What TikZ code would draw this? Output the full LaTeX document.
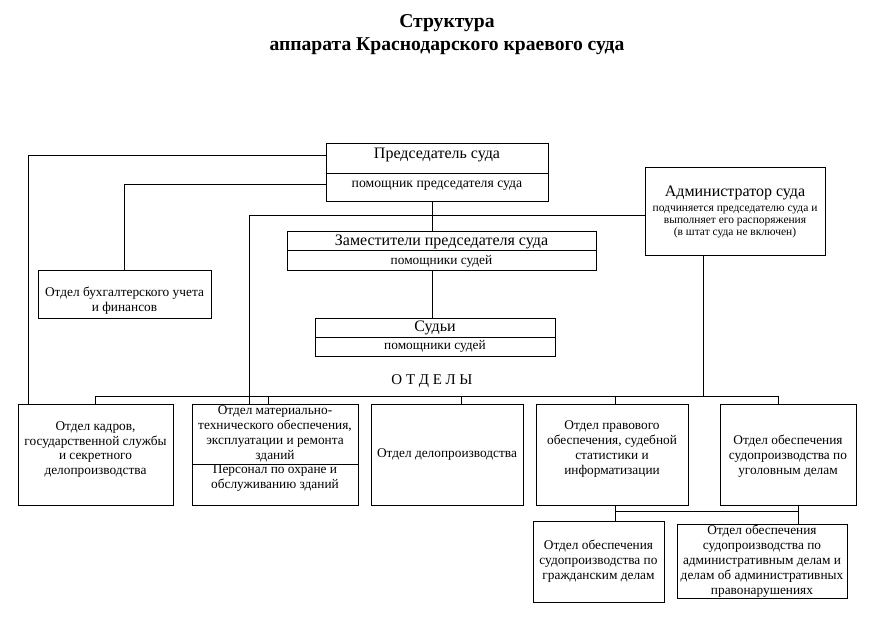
\documentclass[tikz,border=0pt]{standalone}
\usepackage{fontspec}
\setmainfont{Liberation Serif}
\usetikzlibrary{positioning}

\tikzset{
  unit/.style={draw, line width=0.75pt, outer sep=0pt, inner sep=0.5pt, align=center,
    font=\fontsize{10}{11.2}\selectfont},
  lbl/.style={inner sep=0pt, align=center, font=\fontsize{10}{11.2}\selectfont},
  link/.style={line width=0.75pt},
}

\begin{document}
\begin{tikzpicture}[x=0.75pt, y=-0.75pt]
    \useasboundingbox (0,0) rectangle (877,623);

    % Title
    \node[align=center, font=\fontsize{14.7}{17.25}\selectfont\bfseries] (title) at (447,35)
        {Структура\\аппарата Краснодарского краевого суда};

    % Chairman
    \node[unit, minimum width=166.5pt, minimum height=22.5pt] (chair) at (437,159) {};
    \node[unit, minimum width=166.5pt, minimum height=21pt, below=0pt of chair] (chairsub) {};
    \node[lbl, font=\fontsize{12}{14}\selectfont] (chairtxt) at ([yshift=3pt]chair.center) {Председатель суда};
    \node[lbl, font=\fontsize{10.3}{12}\selectfont] (chairsubtxt) at ([yshift=1.5pt]chairsub.center) {помощник председателя суда};

    % Deputies
    \node[unit, minimum width=231.75pt, minimum height=14.25pt, font=\fontsize{12}{13}\selectfont] (zam) at (441.5,241.5)
        {Заместители председателя суда};
    \node[unit, minimum width=231.75pt, minimum height=15pt, below=0pt of zam] (zamsub) {помощники судей};

    % Judges
    \node[unit, minimum width=180pt, minimum height=14.25pt, font=\fontsize{12}{13}\selectfont] (sudi) at (435,327.5) {Судьи};
    \node[unit, minimum width=180pt, minimum height=14.25pt, below=0pt of sudi] (sudisub) {помощники судей};

    % Administrator
    \node[unit, minimum width=135pt, minimum height=66pt, font=\fontsize{8.6}{9}\selectfont] (admin) at (735,212)
        {{\fontsize{12}{14}\selectfont Администратор суда}\\[2.5pt]
         подчиняется председателю суда и\\выполняет его распоряжения\\(в штат суда не включен)};

    % Accounting
    \node[unit, minimum width=129.75pt, minimum height=35.25pt] (buh) at (124.5,294.5) {};
    \node[lbl] (buhtxt) at ([yshift=-4.9pt]buh.center) {Отдел бухгалтерского учета\\и финансов};

    \node[font=\fontsize{11.2}{13}\selectfont] (otdely) at (432,381) {О Т Д Е Л Ы};

    % Departments
    \node[unit, minimum width=116.25pt, minimum height=75.75pt] (kadr) at (95.5,454.5) {};
    \node[lbl] (kadrtxt) at ([yshift=3.75pt]kadr.center)
        {Отдел кадров,\\государственной службы\\и секретного\\делопроизводства};
    \node[unit, minimum width=124.5pt, minimum height=45pt] (mto) at (275,434)
        {Отдел материально-\\технического обеспечения,\\эксплуатации и ремонта\\зданий};
    \node[unit, minimum width=124.5pt, minimum height=30.75pt, below=0pt of mto] (mtosub) {};
    \node[lbl] (mtosubtxt) at ([yshift=4.5pt]mtosub.center) {Персонал по охране и\\обслуживанию зданий};
    \node[unit, minimum width=114pt, minimum height=75.75pt] (delo) at (447,454.5) {Отдел делопроизводства};
    \node[unit, minimum width=114pt, minimum height=75.75pt] (prav) at (612,454.5) {};
    \node[lbl] (pravtxt) at ([yshift=4.1pt]prav.center)
        {Отдел правового\\обеспечения, судебной\\статистики и\\информатизации};
    \node[unit, minimum width=102pt, minimum height=75.75pt] (ugol) at (788,454.5) {};
    \node[lbl] (ugoltxt) at ([yshift=-1.5pt]ugol.center)
        {Отдел обеспечения\\судопроизводства по\\уголовным делам};
    \node[unit, minimum width=98.25pt, minimum height=60.75pt] (grazh) at (598.5,561.5)
        {Отдел обеспечения\\судопроизводства по\\гражданским делам};
    \node[unit, minimum width=127.5pt, minimum height=55.5pt] (admdelo) at (762,561)
        {Отдел обеспечения\\судопроизводства по\\административным делам и\\делам об административных\\правонарушениях};

    % Connections
    \coordinate (axis) at (432,0);
    \coordinate (bus) at (0,396);
    \coordinate (low) at (0,511);
    \draw[link] ([yshift=2.25pt]chair.west) -| ([xshift=8pt]kadr.north west);
    \draw[link] ([yshift=2.25pt]chairsub.west) -| (buh.north);
    \draw[link] (chairsub.south -| axis) -- (zam.north -| axis);
    \draw[link] (zamsub.south -| axis) -- (sudi.north -| axis);
    \draw[link] ([yshift=-3pt]admin.west) -| ([xshift=-19.5pt]mto.north);
    \draw[link] ([xshift=-24pt]admin.south) -- ([xshift=-24pt]admin.south |- bus);
    \draw[link] (kadr.north |- bus) -- ([xshift=-7.25pt]ugol.north |- bus);
    \foreach \dept/\dx in {kadr/0, mto/-5, delo/11, prav/2.5, ugol/-7.25}
        \draw[link] ([xshift=\dx pt]\dept.north) -- ([xshift=\dx pt]\dept.north |- bus);
    \draw[link] ([xshift=2.5pt]prav.south) -- ([xshift=2.5pt]prav.south |- grazh.north);
    \draw[link] ([xshift=7.75pt]ugol.south) -- ([xshift=7.75pt]ugol.south |- admdelo.north);
    \draw[link] ([xshift=2.5pt]prav.south |- low) -- ([xshift=7.75pt]ugol.south |- low);
\end{tikzpicture}
\end{document}
